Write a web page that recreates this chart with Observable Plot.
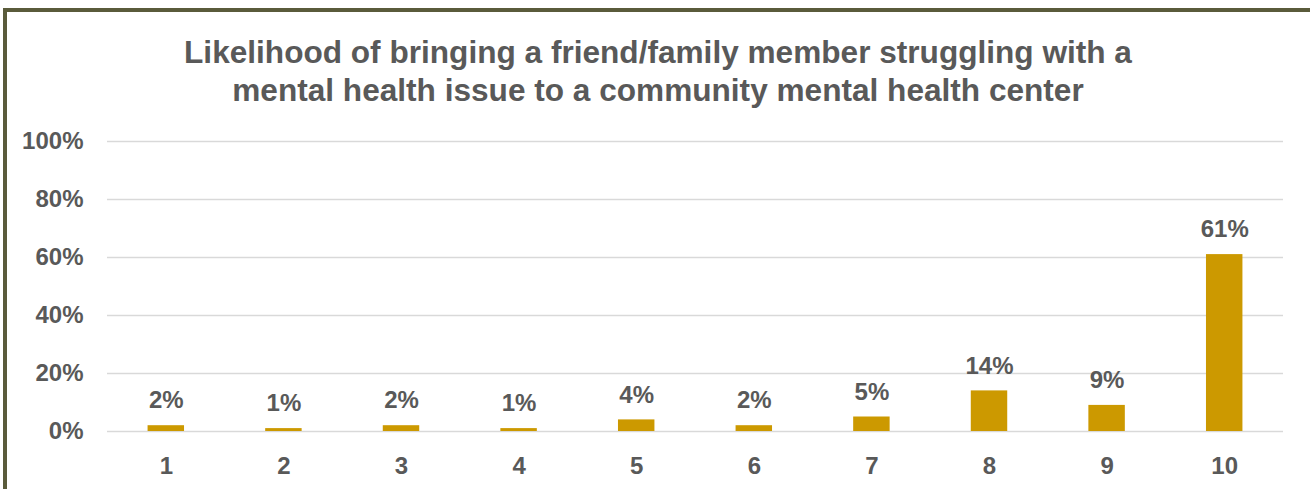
<!DOCTYPE html>
<html>
<head>
<meta charset="utf-8">
<script src="https://cdn.jsdelivr.net/npm/d3@7"></script>
<script src="https://cdn.jsdelivr.net/npm/@observablehq/plot@0.6"></script>
<style>
  html, body { margin: 0; padding: 0; width: 1310px; height: 489px; overflow: hidden; background: #ffffff; }
  #frame { position: absolute; left: 3px; top: 8px; width: 1400px; height: 600px;
           border-top: 4px solid #5a5b3b; border-left: 4px solid #5a5b3b; box-sizing: border-box; }
  #title { position: absolute; left: 3px; top: 33px; width: 1310px; text-align: center;
           font-family: "Liberation Sans", Arial, sans-serif; font-weight: bold; font-size: 31.6px;
           line-height: 38px; color: #595959; margin: 0; }
  #chart { position: absolute; left: 0; top: 110px; }
</style>
</head>
<body>
<div id="frame"></div>
<div id="title">Likelihood of bringing a friend/family member struggling with a<br>mental health issue to a community mental health center</div>
<div id="chart"></div>
<script>
const categories = ["1", "2", "3", "4", "5", "6", "7", "8", "9", "10"];
const values = [2, 1, 2, 1, 4, 2, 5, 14, 9, 61];
const yTicks = [0, 20, 40, 60, 80, 100];

const data = categories.map((c, i) => ({cat: c, val: values[i]}));
const font = "'Liberation Sans', Arial, sans-serif";

const chart = Plot.plot({
  width: 1310,
  height: 379,
  marginTop: 31,
  marginBottom: 58,
  marginLeft: 107,
  marginRight: 27,
  style: {fontFamily: font, fontSize: "24px", fontWeight: "bold", color: "#595959", background: "transparent", overflow: "visible"},
  x: {domain: categories, paddingInner: 0.69, paddingOuter: 0.345, round: false, label: null},
  y: {domain: [0, 100], label: null},
  marks: [
    Plot.gridY(yTicks, {stroke: "#d9d9d9", strokeOpacity: 1, strokeWidth: 1.5}),
    Plot.barY(data, {x: "cat", y: "val", fill: "#cc9900"}),
    Plot.text(data, {x: "cat", y: "val", text: d => d.val + "%", dy: -25, lineAnchor: "middle",
                     fill: "#595959", fontSize: 24, fontWeight: "bold"}),
    Plot.axisY({ticks: yTicks, tickSize: 0, tickPadding: 24, tickFormat: d => d + "%", label: null,
                fill: "#595959", fontSize: 24, fontWeight: "bold"}),
    Plot.axisX({tickSize: 0, tickPadding: 25, label: null, fill: "#595959", fontSize: 24, fontWeight: "bold"})
  ]
});
document.getElementById("chart").appendChild(chart);
</script>
</body>
</html>
